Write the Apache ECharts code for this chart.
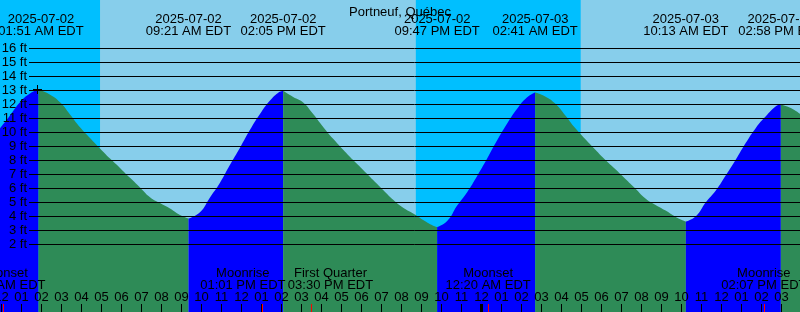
<!DOCTYPE html>
<html><head><meta charset="utf-8">
<script src="https://cdn.jsdelivr.net/npm/echarts@6/dist/echarts.min.js"></script>
<style>html,body{margin:0;padding:0;background:#fff}#c{width:800px;height:312px}</style>
</head><body><div id="c"></div>
<script>
// ---------- DATA ----------
const chartTitle = 'Portneuf, Québec';
const tzName = 'EDT';
// tide extremes (local time)
const extremeTimes = ['2025-07-02 01:51','2025-07-02 09:21','2025-07-02 14:05','2025-07-02 21:47','2025-07-03 02:41','2025-07-03 10:13','2025-07-03 14:58'];
// tide curve: hours since 2025-07-02 00:00 and height in feet
const curveHours = [-0.075,0.425,0.925,1.425,1.85,2.35,2.925,3.425,3.925,4.425,4.925,5.425,5.925,6.425,6.925,7.425,7.925,8.425,8.925,9.35,
  9.925,10.425,10.925,11.425,11.925,12.425,12.925,13.425,13.825,14.083,
  14.583,15.083,15.583,16.083,16.583,17.083,17.583,18.083,18.583,19.083,19.583,20.083,20.583,21.083,21.583,21.783,
  22.283,22.783,23.283,23.783,24.283,24.783,25.283,25.783,26.283,26.683,
  27.183,27.683,28.183,28.683,29.183,29.683,30.183,30.683,31.183,31.683,32.183,32.683,33.183,33.683,34.217,
  34.717,35.217,35.717,36.217,36.717,37.217,37.717,38.217,38.717,38.967,39.467,39.925];
const curveFeet = [10.29,11.21,12.16,12.79,13.05,12.77,12.16,11.29,10.38,9.61,8.86,8.14,7.47,6.76,6.08,5.38,4.96,4.57,4.11,3.86,
  4.31,5.36,6.41,7.69,8.91,10.19,11.32,12.28,12.83,12.98,
  12.54,12.15,11.32,10.40,9.55,8.77,8.03,7.33,6.61,5.89,5.19,4.62,4.21,3.75,3.34,3.24,
  3.67,4.78,5.74,6.89,8.14,9.44,10.64,11.70,12.52,12.86,
  12.58,12.07,11.24,10.32,9.54,8.79,8.06,7.39,6.70,6.01,5.30,4.84,4.44,3.99,3.64,
  4.02,5.02,5.86,6.94,8.07,9.26,10.33,11.16,11.87,12.00,11.75,11.33];
const feetLines = [2,3,4,5,6,7,8,9,10,11,12,13,14,15,16];
const hourTicks = [0,1,2,3,4,5,6,7,8,9,10,11,12,13,14,15,16,17,18,19,20,21,22,23,24,25,26,27,28,29,30,31,32,33,34,35,36,37,38,39];
const hourLabels = ['12','01','02','03','04','05','06','07','08','09','10','11','12','01','02','03','04','05','06','07','08','09','10','11',
  '12','01','02','03','04','05','06','07','08','09','10','11','12','01','02','03'];
// sunrise / sunset / sunrise (view starts at night)
const sunTimes = ['2025-07-02 04:56','2025-07-02 20:43','2025-07-03 04:58'];
const moonNames = ['Moonset','Moonrise','First Quarter','Moonset','Moonrise'];
const moonTimes = ['2025-07-02 00:04','2025-07-02 13:01','2025-07-02 15:30','2025-07-03 00:20','2025-07-03 14:07'];
const midnightTimes = ['2025-07-03 00:00'];
const nowTime = '2025-07-02 01:48';
const nowFeet = 13.07;

// ---------- STYLE / LAYOUT ----------
const FONT = 'Liberation Sans';
const C_NIGHT = '#00BFFF', C_DAY = '#87CEEB', C_FALL = '#2E8B57', C_RISE = '#0000FF';
const xMin = -0.075, xMax = 39.925;
const yMin = -2.821, yMax = 19.464;
const tickFeet = 8 / 14;          // 8px tick length in feet units
const lineStartHour = 1.375;      // depth lines start right of labels
const moonLabelShift = [0, -19, 19, 0, 0];
const tideLabelShift = [2.5, 0, 0, 0, 0, 0, 0];

function toHours(s) {
  const [d, t] = s.split(' ');
  const day = parseInt(d.split('-')[2], 10) - 2;
  const [hh, mm] = t.split(':').map(Number);
  return day * 24 + hh + mm / 60;
}
function fmtTime(s) {
  const [hh, mm] = s.split(' ')[1].split(':').map(Number);
  const h12 = (hh % 12) || 12;
  return String(h12).padStart(2, '0') + ':' + String(mm).padStart(2, '0') + (hh < 12 ? ' AM ' : ' PM ') + tzName;
}

// split curve into rising / falling segments
const pts = curveHours.map((h, i) => [h, curveFeet[i]]);
const segs = [];
let cur = [pts[0]];
let dir = Math.sign(pts[1][1] - pts[0][1]);
for (let i = 1; i < pts.length; i++) {
  const d = Math.sign(pts[i][1] - pts[i - 1][1]);
  if (d !== dir && cur.length > 1) { segs.push({ dir, data: cur }); cur = [pts[i - 1]]; dir = d; }
  cur.push(pts[i]);
}
segs.push({ dir, data: cur });

const series = segs.map(s => ({
  type: 'line', data: s.data, symbol: 'none', smooth: 0.5, silent: true, z: 2,
  lineStyle: { width: 0 },
  areaStyle: { color: s.dir > 0 ? C_RISE : C_FALL, opacity: 1, origin: 'start' }
}));

// day / night bands
const edges = [xMin, ...sunTimes.map(toHours), xMax];
const bands = [];
for (let i = 0; i < edges.length - 1; i++) {
  bands.push([{ xAxis: edges[i], itemStyle: { color: i % 2 === 0 ? C_NIGHT : C_DAY } }, { xAxis: edges[i + 1] }]);
}

const txt = { color: '#000', fontSize: 13, fontFamily: FONT, lineHeight: 12 };

// overlay: background, depth lines, labels
series.push({
  type: 'line', data: [[xMin, yMin]], symbol: 'none', lineStyle: { width: 0 }, silent: true, z: 1,
  markArea: { silent: true, z: 1, data: bands, itemStyle: { opacity: 1 } },
  markLine: {
    silent: true, z: 5, symbol: ['none', 'none'], animation: false,
    lineStyle: { color: '#000', width: 1, type: 'solid' },
    label: { show: true, position: 'start', distance: 2, color: '#000', fontSize: 13, fontFamily: FONT, formatter: p => p.data.ft + ' ft' },
    emphasis: { disabled: true },
    data: feetLines.map(f => [{ coord: [lineStartHour, f], ft: f }, { coord: [xMax, f] }])
  },
  markPoint: {
    silent: true, z: 6, symbol: 'circle', symbolSize: 1, itemStyle: { color: 'transparent' },
    data: [
      ...extremeTimes.map((t, i) => ({
        coord: [toHours(t), yMax],
        label: { show: true, position: 'bottom', distance: 13, offset: [tideLabelShift[i], 0], ...txt,
          formatter: t.split(' ')[0] + '\n' + fmtTime(t) }
      })),
      ...moonTimes.map((t, i) => ({
        coord: [toHours(t), yMin],
        label: { show: true, position: 'top', distance: 20.5, offset: [moonLabelShift[i], 0], ...txt,
          formatter: moonNames[i] + '\n' + fmtTime(t) }
      })),
      { coord: [toHours(nowTime), nowFeet], symbol: 'rect', symbolSize: [9, 1], itemStyle: { color: '#000' }, label: { show: false } },
      { coord: [toHours(nowTime), nowFeet], symbol: 'rect', symbolSize: [1, 9], itemStyle: { color: '#000' }, label: { show: false } }
    ]
  }
});
// midnight ticks and moon-event ticks on the time axis
const tickPair = (h, style) => [{ coord: [h, yMin], lineStyle: style }, { coord: [h, yMin + tickFeet] }];
series.push({
  type: 'line', data: [[xMin, yMin]], symbol: 'none', lineStyle: { width: 0 }, silent: true, z: 1,
  markLine: {
    silent: true, z: 12, symbol: ['none', 'none'], animation: false, label: { show: false },
    emphasis: { disabled: true },
    data: [
      ...midnightTimes.map(t => tickPair(toHours(t), { color: '#000000', width: 3, type: 'solid' })),
      ...moonTimes.map(t => tickPair(toHours(t), { color: '#FF0000', width: 1, type: 'solid' }))
    ]
  }
});
// carrier for the hour axis grid
series.push({ type: 'line', xAxisIndex: 1, yAxisIndex: 1, data: [], silent: true });

const chart = echarts.init(document.getElementById('c'), null, { renderer: 'canvas' });
chart.setOption({
  animation: false,
  backgroundColor: C_DAY,
  title: { text: chartTitle, left: 'center', top: 1, textStyle: { color: '#000', fontSize: 13, fontWeight: 'normal', fontFamily: FONT } },
  grid: [
    { left: 0, right: 0, top: 0, bottom: 0, containLabel: false, outerBoundsMode: 'none' },
    // hour axis: starts at midnight (0 h), 1.5 px right of the canvas edge
    { left: 1.5, right: 0, top: 0, bottom: 0, containLabel: false, outerBoundsMode: 'none' }
  ],
  xAxis: [
    { type: 'value', min: xMin, max: xMax, show: false },
    {
      gridIndex: 1, type: 'value', min: 0, max: xMax, interval: 1, z: 11, position: 'bottom',
      axisLine: { show: false, onZero: false }, splitLine: { show: false },
      axisTick: { show: true, inside: true, length: 8, lineStyle: { color: '#000', width: 1 } },
      axisLabel: { show: true, inside: true, interval: 0, margin: 8, color: '#000', fontSize: 13, fontFamily: FONT,
        showMaxLabel: false, formatter: v => (Number.isInteger(v) && hourLabels[v] !== undefined) ? hourLabels[v] : '' }
    }
  ],
  yAxis: [
    { type: 'value', min: yMin, max: yMax, show: false },
    { gridIndex: 1, type: 'value', min: 0, max: 1, show: false }
  ],
  series
});
</script></body></html>
